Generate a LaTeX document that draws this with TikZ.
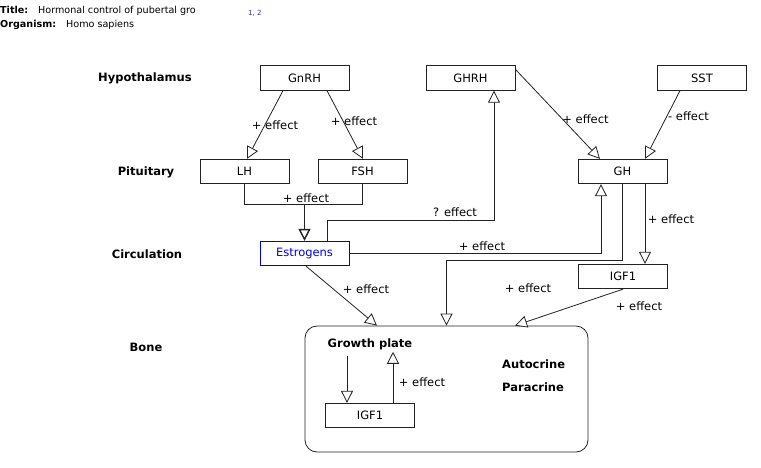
\documentclass[tikz,border=0pt]{standalone}
\usepackage{fontspec}
\setmainfont{DejaVu Sans}
\usetikzlibrary{arrows.meta,calc}
\definecolor{edgecol}{HTML}{222222}
\definecolor{refblue}{HTML}{0000EE}
\definecolor{citeblue}{HTML}{333399}
\begin{document}
\begin{tikzpicture}[x=1pt,y=-1pt,
  box/.style={draw=edgecol, line width=0.8pt, minimum width=89pt, minimum height=24.5pt, inner sep=0pt, font=\fontsize{11.5}{13}\selectfont},
  lbl/.style={font=\fontsize{11.5}{13}\selectfont, inner sep=1pt},
  blbl/.style={font=\fontsize{11.5}{13}\selectfont\bfseries, inner sep=2pt},
  ln/.style={draw=edgecol, line width=0.8pt},
  arr/.style={ln, -{Triangle[open,length=12pt,width=12pt,fill=white]}},
  ttl/.style={font=\fontsize{9.6}{11}\selectfont, inner sep=0pt, anchor=base west}]
\useasboundingbox (0,0) rectangle (761,467);

% title
\node[ttl, font=\fontsize{9.6}{11}\selectfont\bfseries] (tlab) at (0,13.5) {Title:};
\begin{scope}
  \clip (30,0) rectangle (195,18);
  \node[ttl] (ttext) at (38,13.5) {Hormonal control of pubertal growth};
\end{scope}
\node[ttl, font=\fontsize{7}{8}\selectfont, text=citeblue] (cite) at (248,15) {1, 2};
\node[ttl, font=\fontsize{9.6}{11}\selectfont\bfseries] (olab) at (0,27.5) {Organism:};
\node[ttl] (otext) at (66,27.5) {Homo sapiens};

% row labels
\begin{scope}
  \clip (80,60) rectangle (192,95);
  \node[blbl, anchor=west] (hyp) at (96,78) {Hypothalamus};
\end{scope}
\node[blbl] (pit) at (146,172) {Pituitary};
\node[blbl] (circ) at (147,254) {Circulation};
\node[blbl] (bonel) at (146,347) {Bone};

% boxes
\node[box] (GnRH) at (304.5,78) {GnRH};
\node[box] (GHRH) at (470.5,78) {GHRH};
\node[box] (SST) at (702,78) {SST};
\node[box] (LH) at (244.5,171.5) {LH};
\node[box] (FSH) at (362.5,171.5) {FSH};
\node[box] (GH) at (622.5,171.5) {GH};
\node[box, draw=refblue, text=refblue] (Est) at (304.5,253.5) {Estrogens};
\node[box] (IGF1) at (623,276.5) {IGF1};

% bone compartment
\node[draw=edgecol, line width=0.8pt, rounded corners=12pt, minimum width=283pt, minimum height=126pt, inner sep=0pt] (Bone) at (446.5,389) {};
\node[blbl] (GP) at (370,344) {Growth plate};
\node[blbl, anchor=west] (auto) at (500,364) {Autocrine};
\node[blbl, anchor=west] (para) at (500,387) {Paracrine};
\node[box] (IGF1b) at (370,415.5) {IGF1};

% connectors
\draw[arr] ([xshift=-21.5pt]GnRH.south) -- ([xshift=2.5pt]LH.north);
\draw[arr] ([xshift=22.5pt]GnRH.south) -- ([xshift=0.5pt]FSH.north);
\draw[ln] (LH.south) -- ++(0,20) -| (FSH.south);
\coordinate (join) at (304.5,204);
\draw[arr, line width=1.4pt] (join) -- (Est.north);
\draw[arr] ([xshift=22.5pt]Est.north) -- ++(0,-20) -| ([xshift=23.5pt]GHRH.south);
\draw[arr] (Est.east) -| ([xshift=-21.5pt]GH.south);
\draw[arr] (GH.south) -- ++(0,76) -| (Bone.north);
\draw[arr] ([xshift=22.5pt]GH.south) -- ([xshift=22.5pt]GH.south |- IGF1.north);
\draw[arr] ([yshift=-4pt]GHRH.north east) -- ([xshift=-22.5pt]GH.north);
\draw[arr] ([xshift=-22pt]SST.south) -- ([xshift=22.5pt]GH.north);
\draw[arr] ([xshift=1.5pt]Est.south) -- ([xshift=-69.5pt]Bone.north);
\draw[arr] (IGF1.south) -- ([xshift=68.5pt]Bone.north);
\draw[arr] ([xshift=-23pt,yshift=-4pt]GP.south) -- ([xshift=-23pt]IGF1b.north);
\draw[arr] ([xshift=23pt]IGF1b.north) -- ([xshift=23pt]GP.south);

% edge labels
\node[lbl] (l1) at (275,125) {+ effect};
\node[lbl] (l2) at (354,121) {+ effect};
\node[lbl] (l3) at (306,198) {+ effect};
\node[lbl] (l4) at (455,212) {? effect};
\node[lbl] (l5) at (482,246) {+ effect};
\node[lbl] (l6) at (528,288) {+ effect};
\node[lbl] (l7) at (585.5,119) {+ effect};
\node[lbl] (l8) at (688.5,116) {- effect};
\node[lbl] (l9) at (671,219) {+ effect};
\node[lbl] (l10) at (366,289) {+ effect};
\node[lbl] (l11) at (639,306) {+ effect};
\node[lbl] (l12) at (422,382) {+ effect};
\end{tikzpicture}
\end{document}
